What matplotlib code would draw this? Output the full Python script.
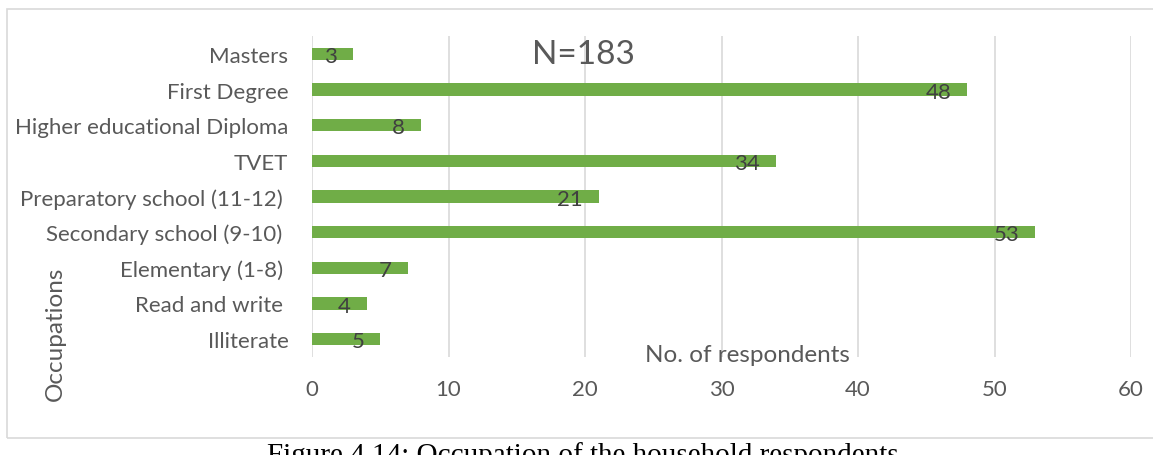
import matplotlib
matplotlib.use("Agg")
import matplotlib.pyplot as plt
from matplotlib.patches import Rectangle

# Education levels of household respondents (bottom to top)
categories = [
    "Illiterate",
    "Read and write ",
    "Elementary (1-8) ",
    "Secondary school (9-10) ",
    "Preparatory school (11-12) ",
    "TVET",
    "Higher educational Diploma",
    "First Degree",
    "Masters",
]
counts = [5, 4, 7, 53, 21, 34, 8, 48, 3]
x_ticks = [0, 10, 20, 30, 40, 50, 60]

W, H = 1153, 456
plt.rcParams["font.family"] = ["Lato", "DejaVu Sans"]

fig = plt.figure(figsize=(W / 100, H / 100), dpi=100)
fig.patch.set_facecolor("white")

# chart frame
fig.patches.append(Rectangle((7 / W, 1 - 439 / H), 1.2, (439 - 10) / H,
                             transform=fig.transFigure, fill=False,
                             ec="#d9d9d9", lw=1.2))

ax = fig.add_axes([312 / W, 1 - 358 / H, (1131 - 312) / W, (358 - 37) / H])
ypos = list(range(len(categories)))
ax.barh(ypos, counts, height=0.35, color="#70AD47", zorder=3)

ax.set_xlim(0, 60)
ax.set_ylim(-0.5, len(categories) - 0.5)
ax.set_xticks(x_ticks)
ax.set_yticks(ypos)
ax.set_yticklabels(categories)
ax.grid(axis="x", color="#d9d9d9", lw=1.2, zorder=0)
ax.set_axisbelow(True)
for s in ax.spines.values():
    s.set_visible(False)
ax.tick_params(axis="both", length=0, labelsize=16, colors="#595959")
ax.tick_params(axis="x", pad=16)
ax.tick_params(axis="y", pad=17)

for i, v in enumerate(counts):
    ax.annotate(str(v), xy=(v, i), xytext=(-11.5, -1.5),
                textcoords="offset points", ha="right", va="center",
                fontsize=16, color="#404040", zorder=4)

fig.text(583 / W, 1 - 55 / H, "N=183", ha="center", va="center",
         fontsize=24, color="#595959")
fig.text(747 / W, 1 - 356 / H, "No. of respondents", ha="center",
         va="center", fontsize=17.5, color="#595959")
fig.text(55 / W, 1 - 334 / H, "Occupations", ha="center", va="center",
         rotation=90, fontsize=17.5, color="#595959")

fig.text(267 / W, 1 - 442 / H,
         "Figure 4.14: Occupation of the household respondents",
         ha="left", va="top", fontsize=21, family="Liberation Serif",
         color="black")

fig.savefig("out.png", dpi=100)
